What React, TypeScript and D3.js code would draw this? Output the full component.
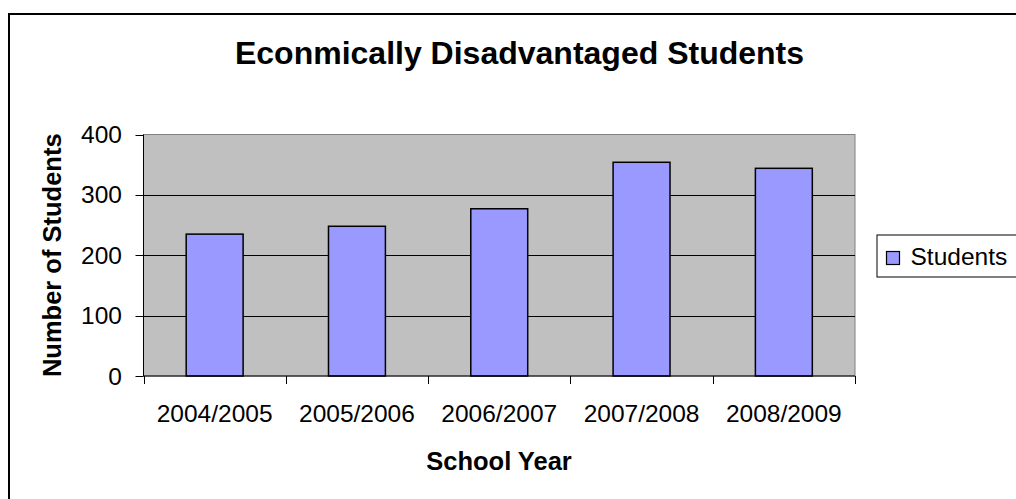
import React from "react";
import * as d3 from "d3";

// Chart data
const schoolYears: string[] = ["2004/2005", "2005/2006", "2006/2007", "2007/2008", "2008/2009"];
const studentCounts: number[] = [235, 248, 277, 354, 344];
const yTickValues: number[] = [0, 100, 200, 300, 400];
const seriesName = "Students";

const FONT = "'Liberation Sans', Arial, Helvetica, sans-serif";

export default function App() {
  const width = 1016;
  const height = 499;
  const plot = { left: 143.5, right: 855, top: 134.5, bottom: 376 };

  const x = d3
    .scaleBand<string>()
    .domain(schoolYears)
    .range([plot.left, plot.right])
    .paddingInner(0.6)
    .paddingOuter(0.3);

  const y = d3.scaleLinear().domain([0, 400]).range([plot.bottom, plot.top]);

  const step = x.step();
  const boundaries = d3.range(schoolYears.length + 1).map((i) => plot.left + i * step);

  return (
    <svg
      width={width}
      height={height}
      style={{ position: "absolute", left: 0, top: 0, background: "#ffffff" }}
      fontFamily={FONT}
    >
      {/* chart area frame */}
      <rect x={9} y={14} width={1030} height={520} fill="#ffffff" stroke="#000000" strokeWidth={2} />

      {/* title */}
      <text x={519.5} y={64} textAnchor="middle" fontSize={32} fontWeight="bold" fill="#000">
        Econmically Disadvantaged Students
      </text>

      {/* plot area */}
      <rect
        x={plot.left}
        y={plot.top}
        width={plot.right - plot.left}
        height={plot.bottom - plot.top}
        fill="#C0C0C0"
        stroke="#808080"
        strokeWidth={1}
      />

      {/* gridlines */}
      {yTickValues
        .filter((v) => v > 0 && v < 400)
        .map((v) => (
          <line
            key={`g${v}`}
            x1={plot.left}
            x2={plot.right}
            y1={Math.round(y(v)) + 0.5}
            y2={Math.round(y(v)) + 0.5}
            stroke="#000"
            strokeWidth={1}
          />
        ))}

      {/* bars */}
      {schoolYears.map((yr, i) => (
        <rect
          key={yr}
          x={x(yr)}
          y={y(studentCounts[i])}
          width={x.bandwidth()}
          height={y(0) - y(studentCounts[i])}
          fill="#9999FF"
          stroke="#000"
          strokeWidth={1.5}
        />
      ))}

      {/* y axis */}
      <line x1={plot.left} x2={plot.left} y1={plot.top} y2={plot.bottom} stroke="#000" strokeWidth={1} />
      {yTickValues.map((v) => (
        <g key={`yt${v}`}>
          <line
            x1={plot.left - 8}
            x2={plot.left}
            y1={Math.round(y(v)) + 0.5}
            y2={Math.round(y(v)) + 0.5}
            stroke="#000"
            strokeWidth={1}
          />
          <text x={122} y={y(v)} dy="0.35em" textAnchor="end" fontSize={24.5} fill="#000">
            {v}
          </text>
        </g>
      ))}

      {/* x axis */}
      <line x1={plot.left} x2={plot.right} y1={plot.bottom} y2={plot.bottom} stroke="#000" strokeWidth={1} />
      {boundaries.map((bx, i) => (
        <line
          key={`xt${i}`}
          x1={Math.round(bx) + 0.5}
          x2={Math.round(bx) + 0.5}
          y1={plot.bottom}
          y2={plot.bottom + 8}
          stroke="#000"
          strokeWidth={1}
        />
      ))}
      {schoolYears.map((yr) => (
        <text
          key={`xl${yr}`}
          x={(x(yr) as number) + x.bandwidth() / 2}
          y={422}
          textAnchor="middle"
          fontSize={24.5}
          fill="#000"
        >
          {yr}
        </text>
      ))}

      {/* axis titles */}
      <text x={499} y={470} textAnchor="middle" fontSize={25.5} fontWeight="bold" fill="#000">
        School Year
      </text>
      <text
        transform={`translate(61, ${(plot.top + plot.bottom) / 2}) rotate(-90)`}
        textAnchor="middle"
        fontSize={25.5}
        fontWeight="bold"
        fill="#000"
      >
        Number of Students
      </text>

      {/* legend */}
      <rect x={877} y={235} width={160} height={42} fill="#ffffff" stroke="#000" strokeWidth={1} />
      <rect x={886.5} y={251.5} width={13} height={13} fill="#9999FF" stroke="#000" strokeWidth={1.2} />
      <text x={910.5} y={264.5} fontSize={24.5} fill="#000">
        {seriesName}
      </text>
    </svg>
  );
}
